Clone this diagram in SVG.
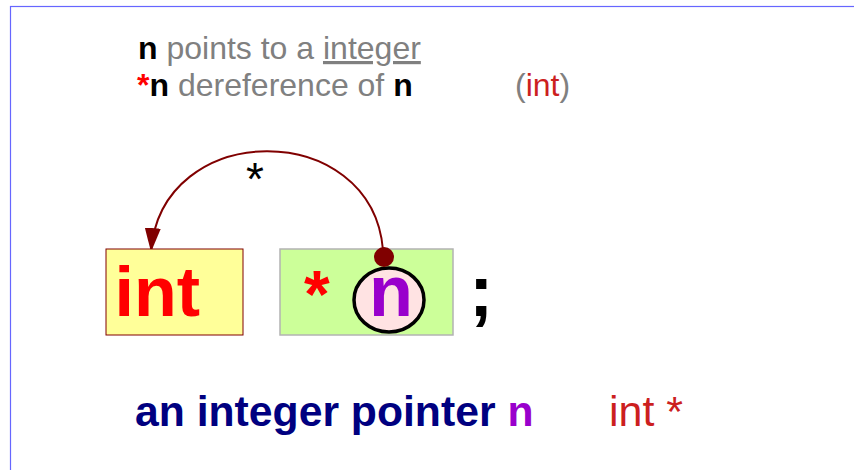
<svg xmlns="http://www.w3.org/2000/svg" width="854" height="470" viewBox="0 0 854 470">
<style>
text{font-family:"Liberation Sans",Arial,sans-serif}
.b{font-weight:bold}
.g{fill:#808080}
.k{fill:#000000}
.r{fill:#ff0000}
</style>
<defs>
<marker id="ah" viewBox="0 0 24 16" refX="24" refY="8" markerWidth="24" markerHeight="16" markerUnits="userSpaceOnUse" orient="auto">
<path d="M0,0 L24,8 L0,16 Z" fill="#800000"/>
</marker>
</defs>
<rect x="0" y="0" width="854" height="470" fill="#ffffff"/>
<rect x="10.5" y="6.5" width="860" height="480" fill="none" stroke="#6666ff" stroke-width="1.2"/>
<g id="caption">
<text x="138" y="59" font-size="32"><tspan class="b k">n</tspan><tspan class="g"> points to a </tspan><tspan class="g" text-decoration="underline">integer</tspan></text>
<text x="137" y="96" font-size="32"><tspan class="b r">*</tspan><tspan class="b k">n</tspan><tspan class="g"> dereference of </tspan><tspan class="b k">n</tspan></text>
<text x="515" y="96" font-size="32"><tspan class="g">(</tspan><tspan fill="#cc1f1f">int</tspan><tspan class="g">)</tspan></text>
</g>
<g id="connectors">
<path d="M383,250 C372,118 161,118 151,252" fill="none" stroke="#800000" stroke-width="2" marker-end="url(#ah)"/>
<text x="246" y="195" font-size="46" class="k">*</text>
</g>
<g id="node-int">
<rect x="106" y="249" width="137" height="86" fill="#ffff99" stroke="#800000" stroke-width="1"/>
<text x="114.5" y="316" font-size="70" class="b r">int</text>
</g>
<g id="node-ptr">
<rect x="280" y="249" width="173" height="86" fill="#ccff99" stroke="#b3b3b3" stroke-width="1.5"/>
<text x="304" y="317" font-size="66" class="b r">*</text>
<ellipse cx="389" cy="300" rx="35" ry="32" fill="#ffe3e3" stroke="#000000" stroke-width="3.5"/>
<text x="369" y="316" font-size="72" class="b" fill="#9900cc">n</text>
<circle cx="384" cy="257" r="10" fill="#800000"/>
</g>
<text x="469" y="316" font-size="73" class="b k">;</text>
<g id="label">
<text x="135" y="426" font-size="42.7" class="b"><tspan fill="#000080">an integer pointer </tspan><tspan fill="#9900cc">n</tspan></text>
<text x="609" y="426" font-size="43" fill="#cc1f1f">int *</text>
</g>
</svg>
